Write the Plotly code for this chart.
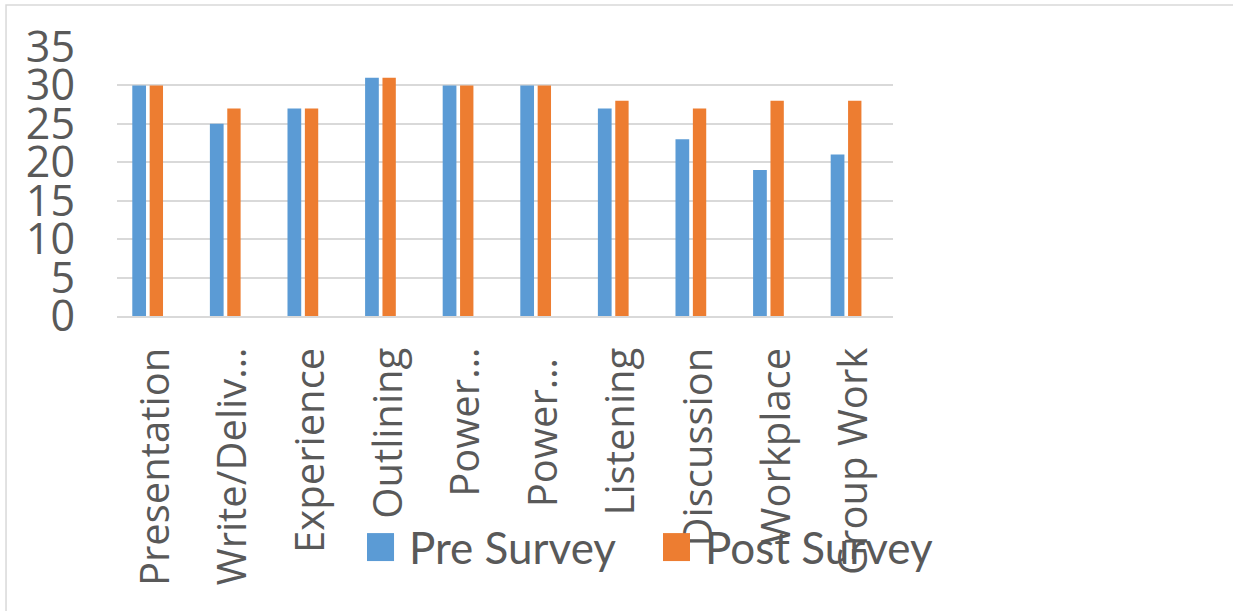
import plotly.graph_objects as go

# Survey topics (long names are shown truncated on the axis)
categories = ["Presentation", "Write/Deliv…", "Experience", "Outlining", "Power…",
              "Power… ", "Listening", "Discussion", "Workplace", "Group Work"]
pre_survey = [30, 25, 27, 31, 30, 30, 27, 23, 19, 21]
post_survey = [30, 27, 27, 31, 30, 30, 28, 27, 28, 28]
y_ticks = [0, 5, 10, 15, 20, 25, 30, 35]

BLUE = "#5B9BD5"
ORANGE = "#ED7D31"
TEXT = "#595959"
GRID = "#D9D9D9"

fig = go.Figure()
fig.add_trace(go.Bar(x=categories, y=pre_survey, name="Pre Survey",
                     marker=dict(color=BLUE, line=dict(width=0)),
                     width=0.177, offset=-0.303))
fig.add_trace(go.Bar(x=categories, y=post_survey, name="Post Survey",
                     marker=dict(color=ORANGE, line=dict(width=0)),
                     width=0.172, offset=-0.079))

fig.update_layout(
    width=1233, height=611,
    margin=dict(l=117, r=340, t=47, b=295),
    paper_bgcolor="white", plot_bgcolor="white",
    showlegend=False,
    barmode="group",
    font=dict(family="Open Sans", color=TEXT),
)

fig.update_xaxes(
    type="category", range=[-0.5, 9.5],
    tickangle=-90, tickfont=dict(size=40, family="Open Sans", color=TEXT),
    showgrid=False, showline=True, linecolor=GRID, linewidth=1.5,
    ticks="", ticklabelstandoff=14,
)
fig.update_yaxes(
    range=[0, 35], tickvals=y_ticks,
    tickfont=dict(size=43, family="Open Sans", color=TEXT),
    showgrid=True, gridcolor=GRID, gridwidth=1.5,
    zeroline=False, showline=False, ticks="", ticklabelstandoff=41,
)

# outer chart border (open on the right and bottom edges)
fig.add_shape(type="rect", xref="paper", yref="paper",
              x0=-0.143, x1=1.46, y0=-1.13, y1=1.156,
              line=dict(color=GRID, width=1.5), fillcolor="rgba(0,0,0,0)", layer="below")

# legend drawn as swatches + labels
legend_items = [("Pre Survey", BLUE, 0.3222), ("Post Survey", ORANGE, 0.7036)]
for label, color, x0 in legend_items:
    fig.add_shape(type="rect", xref="paper", yref="paper",
                  x0=x0, x1=x0 + 0.0348, y0=-0.911, y1=-0.807,
                  line=dict(width=0), fillcolor=color)
    fig.add_annotation(text=label, xref="paper", yref="paper",
                       x=x0 + 0.051, y=-0.858, xanchor="left", yanchor="middle",
                       showarrow=False, font=dict(family="Lato", size=44, color=TEXT))

fig.write_html("out.html")
